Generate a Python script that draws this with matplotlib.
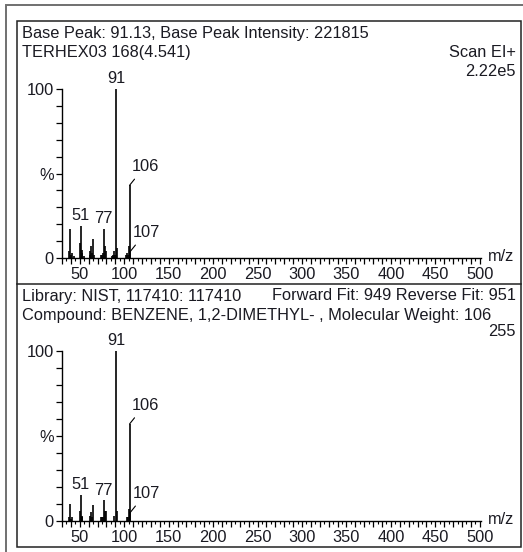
import matplotlib
matplotlib.use("Agg")
import matplotlib.pyplot as plt
from matplotlib.ticker import MultipleLocator, FuncFormatter
from matplotlib.patches import Rectangle
from matplotlib.lines import Line2D

plt.rcParams['font.family'] = ['Liberation Sans', 'DejaVu Sans']

# ---------------- data ----------------
scan_mz = [38, 39, 40, 41, 43, 50, 51, 52, 53, 55, 61, 62, 63, 64, 65, 66,
           74, 75, 76, 77, 78, 79, 86, 87, 89, 90, 91, 92, 102, 103, 104,
           105, 106, 107]
scan_int = [4, 17, 2, 3, 1, 9, 19, 5, 3, 1, 2, 4, 7, 3, 11, 2,
            2, 2, 3, 17, 7, 4, 1, 2, 4, 2, 100, 6, 2, 3, 2,
            7, 43, 4]
scan_labels = [51, 77, 91]
scan_leader_labels = [106, 107]

lib_mz = [38, 39, 40, 41, 50, 51, 52, 53, 62, 63, 64, 65, 74, 75, 76, 77,
          78, 79, 89, 91, 92, 103, 104, 105, 106, 107]
lib_int = [2, 10, 1, 2, 6, 15, 3, 2, 3, 5, 2, 9, 2, 2, 2, 12,
           6, 6, 3, 100, 6, 2, 2, 7, 57, 5]
lib_labels = [51, 77, 91]
lib_leader_labels = [106, 107]

xticks_major = [50, 100, 150, 200, 250, 300, 350, 400, 450, 500]

header_top = ["Base Peak: 91.13, Base Peak Intensity: 221815",
              "TERHEX03 168(4.541)"]
header_top_right = ["Scan EI+", "2.22e5"]
header_bot_left = ["Library: NIST, 117410: 117410",
                   "Compound: BENZENE, 1,2-DIMETHYL- , Molecular Weight: 106"]
header_bot_right = ["Forward Fit: 949 Reverse Fit: 951", "255"]

# ---------------- figure ----------------
W, H = 523, 552
fig = plt.figure(figsize=(W / 100, H / 100), dpi=100)
FS = 11.8
TXT = '#1a1a22'

def fx(px):
    return px / W

def fy(py):
    return 1 - py / H

# outer gray frame and inner black box
fig.patches.append(Rectangle((fx(6), fy(600)), fx(560) - fx(6), fy(5) - fy(600),
                             transform=fig.transFigure, fill=False,
                             edgecolor='#707070', lw=1.4))
fig.patches.append(Rectangle((fx(17), fy(547)), fx(521) - fx(17), fy(21) - fy(547),
                             transform=fig.transFigure, fill=False,
                             edgecolor='#222222', lw=1.1))
fig.lines.append(Line2D([fx(17), fx(521)], [fy(284), fy(284)],
                        transform=fig.transFigure, color='#222222', lw=1.1))

# header texts
fig.text(fx(22), fy(33.5), header_top[0], fontsize=FS, color=TXT, va='center', ha='left')
fig.text(fx(22), fy(52.5), header_top[1], fontsize=FS, color=TXT, va='center', ha='left')
fig.text(fx(516), fy(52.5), header_top_right[0], fontsize=FS, color=TXT, va='center', ha='right')
fig.text(fx(516), fy(71), header_top_right[1], fontsize=FS, color=TXT, va='center', ha='right')

fig.text(fx(22), fy(296), header_bot_left[0], fontsize=FS, color=TXT, va='center', ha='left')
fig.text(fx(516), fy(296), header_bot_right[0], fontsize=FS, color=TXT, va='center', ha='right')
fig.text(fx(22), fy(315.5), header_bot_left[1], fontsize=FS, color=TXT, va='center', ha='left')
fig.text(fx(516), fy(332), header_bot_right[1], fontsize=FS, color=TXT, va='center', ha='right')

XMIN, XMAX = 30, 501
ax_left = fx(62)
ax_w = fx(62 + (XMAX - XMIN) * 0.889) - ax_left


def make_panel(rect, mz, inten, labels, leader_labels):
    ax = fig.add_axes(rect)
    ax.vlines(mz, 0, inten, color='black', lw=1.2)
    ax.set_xlim(XMIN, XMAX)
    ax.set_ylim(0, 100)
    for s in ('top', 'right'):
        ax.spines[s].set_visible(False)
    for s in ('left', 'bottom'):
        ax.spines[s].set_linewidth(1.0)
        ax.spines[s].set_color('black')
    ax.patch.set_alpha(0)

    ax.xaxis.set_major_locator(MultipleLocator(10))
    ax.xaxis.set_minor_locator(MultipleLocator(5))
    ax.xaxis.set_major_formatter(FuncFormatter(
        lambda v, p: f"{int(round(v))}" if int(round(v)) in xticks_major else ""))
    ax.yaxis.set_major_locator(MultipleLocator(10))
    ymap = {0: '0', 50: '%', 100: '100'}
    ax.yaxis.set_major_formatter(FuncFormatter(lambda v, p: ymap.get(int(round(v)), '')))
    ax.tick_params(axis='x', which='major', direction='out', length=4, width=0.9,
                   labelsize=FS, pad=2.5, labelcolor=TXT)
    ax.tick_params(axis='x', which='minor', direction='out', length=2.2, width=0.8)
    ax.tick_params(axis='y', which='major', direction='out', length=4.5, width=0.9,
                   labelsize=FS, pad=1.5, labelcolor=TXT)

    ax.annotate('m/z', xy=(1, 0), xycoords='axes fraction', xytext=(5, 1),
                textcoords='offset points', ha='left', va='center',
                fontsize=FS, color=TXT, annotation_clip=False)

    lookup = dict(zip(mz, inten))
    for m in labels:
        ax.annotate(str(m), xy=(m, lookup[m]), xytext=(0, 2),
                    textcoords='offset points', ha='center', va='bottom',
                    fontsize=FS, color=TXT, annotation_clip=False)
    for m in leader_labels:
        ax.annotate(str(m), xy=(m, lookup[m]), xytext=(1.5, 8),
                    textcoords='offset points', ha='left', va='bottom',
                    fontsize=FS, color=TXT, annotation_clip=False,
                    arrowprops=dict(arrowstyle='-', color='black', lw=0.8,
                                    relpos=(0.25, 0), shrinkA=2, shrinkB=0))
    return ax


make_panel([ax_left, fy(258), ax_w, fy(89) - fy(258)],
           scan_mz, scan_int, scan_labels, scan_leader_labels)
make_panel([ax_left, fy(520.7), ax_w, fy(351) - fy(520.7)],
           lib_mz, lib_int, lib_labels, lib_leader_labels)

fig.savefig('out.png', dpi=100)
